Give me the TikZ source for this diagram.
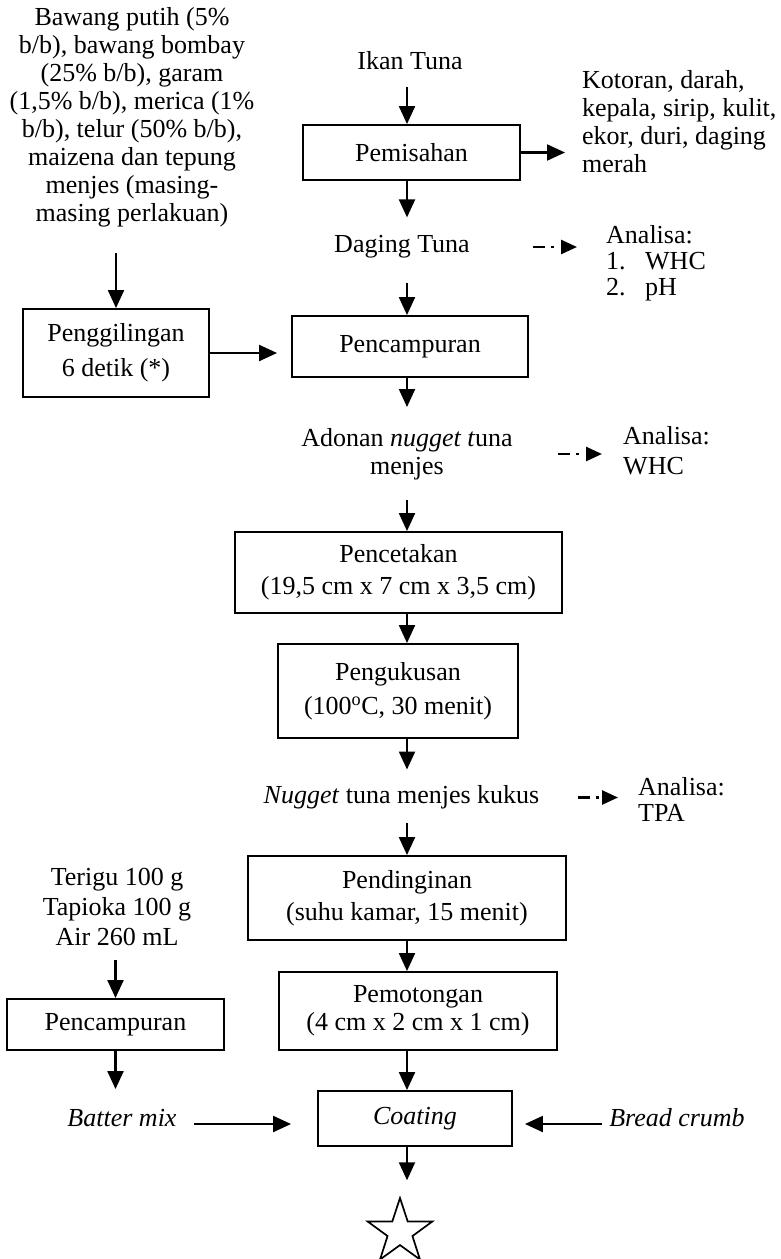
\documentclass[tikz,border=0pt]{standalone}
\usepackage{fontspec}
\setmainfont{Liberation Serif}
\usepackage{tikz}
\usetikzlibrary{arrows.meta, shapes.geometric, positioning}
\tikzset{
    process/.style={
        rectangle, draw=black, line width=1.9pt, inner sep=0pt,
        align=center
    },
    plain/.style={
        inner sep=0pt, align=center
    },
    note/.style={
        inner sep=0pt, align=left, anchor=west
    },
    arrow/.style={
        line width=2.2pt, -{Triangle[length=18pt, width=16pt]}
    },
    dashedarrow/.style={
        line width=2.6pt, dash pattern=on 12pt off 6pt on 3pt off 12pt,
        -{Triangle[length=16pt, width=14pt]}
    },
    endmark/.style={
        star, star points=5, star point ratio=2.6, draw=black,
        line width=1.7pt, minimum size=68pt, inner sep=0pt
    }
}
\begin{document}
\begin{tikzpicture}[x=1pt, y=-1pt, font=\fontsize{26}{28}\selectfont]
        \useasboundingbox (0,0) rectangle (781,1259);
        \coordinate (ax) at (407,0);
        % main line
        \node [plain] (ikan) at (410,61) {Ikan Tuna};
        \node [process, minimum width=217pt, minimum height=55pt] (pisah) at (411.5,152.5) {Pemisahan};
        \node [note] (kotoran) at (582,121.5) {Kotoran, darah,\\kepala, sirip, kulit,\\ekor, duri, daging\\merah};
        \node [plain] (daging) at (402,247) {Daging Tuna};
        \node [note] (ana1) at (606,263) {Analisa:\\[-2pt]\makebox[39pt][l]{1.}WHC\\[-2pt]\makebox[39pt][l]{2.}pH};
        \node [process, minimum width=236pt, minimum height=61pt] (campur) at (410,346.5) {Pencampuran};
        \node [plain] (adonan) at (407,454) {Adonan \textit{nugget t}una\\menjes};
        \node [note] (ana2) at (623,451) {Analisa:\\[2pt]WHC};
        \node [process, minimum width=327pt, minimum height=81pt] (cetak) at (398.5,572.5) {Pencetakan\\[4pt](19,5 cm x 7 cm x 3,5 cm)};
        \node [process, minimum width=240pt, minimum height=94pt] (kukus) at (398,691) {Pengukusan\\[6pt](100\textsuperscript{o}C, 30 menit)};
        \node [plain] (nugget) at (401.5,797.5) {\textit{Nugget} tuna menjes kukus};
        \node [note] (ana3) at (638,799) {Analisa:\\[-2pt]TPA};
        \node [process, minimum width=318pt, minimum height=84pt] (dingin) at (407,898) {Pendinginan\\[4pt](suhu kamar, 15 menit)};
        \node [process, minimum width=278pt, minimum height=78pt] (potong) at (418,1011) {Pemotongan\\(4 cm x 2 cm x 1 cm)};
        \node [process, minimum width=194pt, minimum height=55pt] (coat) at (415,1118.5) {\textit{Coating}};
        \node [endmark] (star) at (400,1232) {};
        % side inputs
        \node [plain] (bumbu) at (132,117) {Bawang putih (5\%\\b/b), bawang bombay\\(25\% b/b), garam\\(1,5\% b/b), merica (1\%\\b/b), telur (50\% b/b),\\maizena dan tepung\\menjes (masing-\\masing perlakuan)};
        \node [process, minimum width=186pt, minimum height=88pt] (giling) at (116,353) {Penggilingan\\[7pt]6 detik (*)};
        \node [plain] (terigu) at (117,907) {Terigu 100 g\\[2pt]Tapioka 100 g\\[2pt]Air 260 mL};
        \node [process, minimum width=217pt, minimum height=51pt] (campurdua) at (115.5,1024.5) {Pencampuran};
        \node [plain] (batter) at (122,1118) {\textit{Batter mix}};
        \node [plain] (bread) at (677,1118) {\textit{Bread crumb}};

        \draw [arrow, shorten <=17pt] (ikan.south -| ax) -- (pisah.north -| ax);
        \draw [arrow, shorten >=17pt] (pisah.east) -- (pisah.east -| kotoran.west);
        \draw [arrow, shorten >=18pt] (pisah.south -| ax) -- (daging.north -| ax);
        \draw [dashedarrow, shorten <=63pt, shorten >=29pt] (daging.east) -- (daging.east -| ana1.west);
        \draw [arrow, shorten <=24pt] (daging.south -| ax) -- (campur.north -| ax);
        \draw [arrow, shorten <=26pt] (bumbu.south -| giling) -- (giling.north);
        \draw [arrow, shorten >=14pt] (giling.east) -- (giling.east -| campur.west);
        \draw [arrow, shorten >=21pt] (campur.south -| ax) -- (adonan.north -| ax);
        \draw [dashedarrow, shorten <=45pt, shorten >=21pt] (adonan.east) -- (adonan.east -| ana2.west);
        \draw [arrow, shorten <=20pt] (adonan.south -| ax) -- (cetak.north -| ax);
        \draw [arrow] (cetak.south -| ax) -- (kukus.north -| ax);
        \draw [arrow, shorten >=16pt] (kukus.south -| ax) -- (nugget.north -| ax);
        \draw [dashedarrow, shorten <=38pt, shorten >=20pt] (nugget.east) -- (nugget.east -| ana3.west);
        \draw [arrow, shorten <=14pt] (nugget.south -| ax) -- (dingin.north -| ax);
        \draw [arrow] (dingin.south -| ax) -- (potong.north -| ax);
        \draw [arrow] (potong.south -| ax) -- (coat.north -| ax);
        \draw [arrow, shorten <=14pt] (terigu.south -| campurdua) -- (campurdua.north);
        \draw [arrow, shorten >=20pt] (campurdua.south) -- (campurdua.south |- batter.north);
        \draw [arrow, shorten <=17pt, shorten >=26pt] ([yshift=-6pt]batter.east) -- ([yshift=-6pt]batter.east -| coat.west);
        \draw [arrow, shorten <=7pt, shorten >=12pt] ([yshift=-6pt]bread.west) -- ([yshift=-6pt]bread.west -| coat.east);
        \draw [arrow, shorten >=15pt] (coat.south -| ax) -- (star.north -| ax);
        %\node [plain] at (400,1232) {};
\end{tikzpicture}
\end{document}
